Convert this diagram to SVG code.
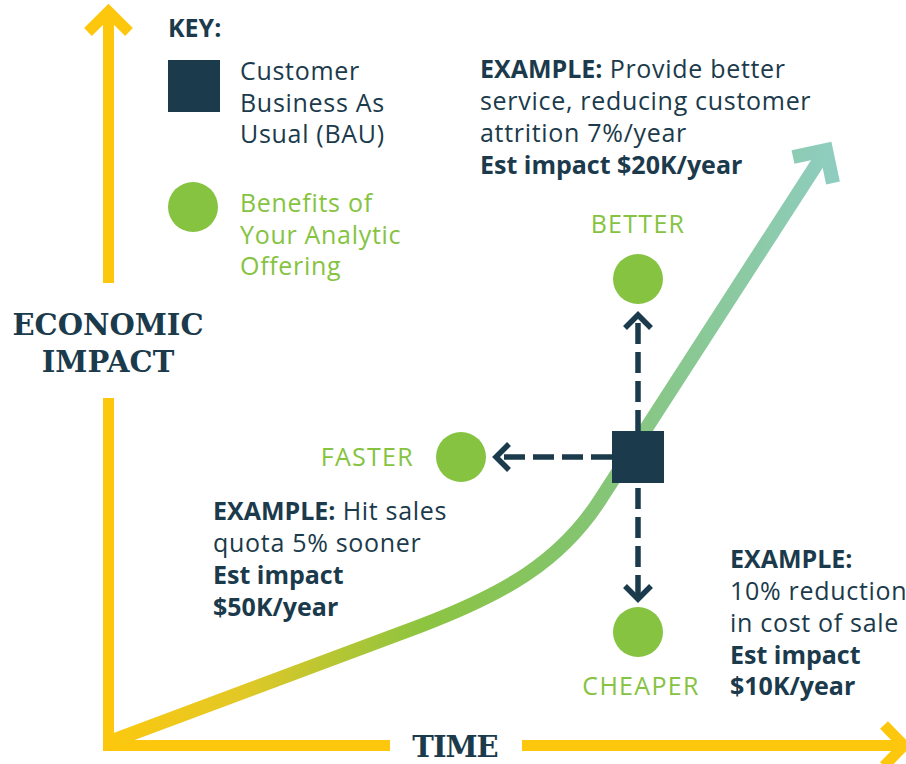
<svg xmlns="http://www.w3.org/2000/svg" width="906" height="764" viewBox="0 0 906 764">
<defs>
<linearGradient id="curveGrad" gradientUnits="userSpaceOnUse" x1="110" y1="0" x2="840" y2="0">
<stop offset="0" stop-color="#fcc80f"/>
<stop offset="0.18" stop-color="#e2c826"/>
<stop offset="0.43" stop-color="#8cc440"/>
<stop offset="0.62" stop-color="#84c46a"/>
<stop offset="1" stop-color="#8fcdc2"/>
</linearGradient>
<style>
.axis{fill:none;stroke:#fdc70d;stroke-width:11;stroke-linejoin:miter;stroke-miterlimit:10}
.curve{fill:none;stroke:url(#curveGrad);stroke-width:14;stroke-linejoin:miter;stroke-miterlimit:10}
.dash{fill:none;stroke:#1b3a4b;stroke-width:5.5;stroke-dasharray:21 8}
.head{fill:none;stroke:#1b3a4b;stroke-width:5.5;stroke-linejoin:miter}
.navy{fill:#1b3a4b}
.green{fill:#85c341}
.t{font-family:"Open Sans",Lato,"Liberation Sans",sans-serif;font-size:25px;fill:#1b3a4b;letter-spacing:0.7px}
.tg{font-family:"Open Sans",Lato,"Liberation Sans",sans-serif;font-size:25px;fill:#85c341;letter-spacing:0.7px}
.cap{letter-spacing:1.3px}
.b{font-weight:700;letter-spacing:0}
.slab{font-family:"DejaVu Serif","Liberation Serif",serif;font-weight:700;font-size:29px;fill:#1b3a4b}
</style>
</defs>

<g id="axes">
<line class="axis" x1="108.5" y1="14" x2="108.5" y2="283"/>
<polyline class="axis" points="88,32 108.5,11.5 129,32"/>
<line class="axis" x1="108.5" y1="398" x2="108.5" y2="750"/>
<line class="axis" x1="103" y1="745.5" x2="390" y2="745.5"/>
<line class="axis" x1="522" y1="745.5" x2="900" y2="745.5"/>
<polyline class="axis" points="884,725 904,745.5 884,766"/>
</g>

<g id="growth-curve">
<path class="curve" d="M112,741 L420,626 C504,594 560,562 600,500 L824,153"/>
<polyline class="curve" points="793,157 826,150 833,183"/>
</g>

<g id="axis-labels">
<text class="slab" x="108" y="335" text-anchor="middle">ECONOMIC</text>
<text class="slab" x="108" y="372" text-anchor="middle">IMPACT</text>
<text class="slab" x="455" y="757" text-anchor="middle" letter-spacing="-1">TIME</text>
</g>

<g id="key">
<text class="t b" x="168" y="37" font-size="23">KEY:</text>
<rect class="navy" x="168" y="60" width="52" height="52"/>
<text class="t" x="240" y="80">Customer</text>
<text class="t" x="240" y="112">Business As</text>
<text class="t" x="240" y="143">Usual (BAU)</text>
<circle class="green" cx="193" cy="207" r="25"/>
<text class="tg" x="240" y="212">Benefits of</text>
<text class="tg" x="240" y="244">Your Analytic</text>
<text class="tg" x="240" y="275">Offering</text>
</g>

<g id="connectors">
<line class="dash" x1="638" y1="431" x2="638" y2="318"/>
<polyline class="head" points="625,328 638,315 651,328"/>
<line class="dash" x1="612" y1="457" x2="499" y2="457"/>
<polyline class="head" points="509,444 496,457 509,470"/>
<line class="dash" x1="638" y1="488" x2="638" y2="596"/>
<polyline class="head" points="625,586 638,599 651,586"/>
</g>

<g id="bau">
<rect class="navy" x="612" y="431" width="52" height="52"/>
</g>

<g id="better">
<circle class="green" cx="638" cy="279" r="25"/>
<text class="tg cap" x="638" y="233" text-anchor="middle">BETTER</text>
</g>

<g id="faster">
<circle class="green" cx="461" cy="457" r="25"/>
<text class="tg cap" x="414" y="466" text-anchor="end">FASTER</text>
</g>

<g id="cheaper">
<circle class="green" cx="638" cy="632" r="25"/>
<text class="tg cap" x="641" y="695" text-anchor="middle">CHEAPER</text>
</g>

<g id="example-better">
<text class="t" x="480" y="78"><tspan class="b">EXAMPLE:</tspan> Provide better</text>
<text class="t" x="480" y="110">service, reducing customer</text>
<text class="t" x="480" y="142">attrition 7%/year</text>
<text class="t b" x="480" y="174">Est impact $20K/year</text>
</g>

<g id="example-faster">
<text class="t" x="213" y="520"><tspan class="b">EXAMPLE:</tspan> Hit sales</text>
<text class="t" x="213" y="552">quota 5% sooner</text>
<text class="t b" x="213" y="584">Est impact</text>
<text class="t b" x="213" y="616">$50K/year</text>
</g>

<g id="example-cheaper">
<text class="t b" x="730" y="568">EXAMPLE:</text>
<text class="t" x="730" y="600">10% reduction</text>
<text class="t" x="730" y="632">in cost of sale</text>
<text class="t b" x="730" y="664">Est impact</text>
<text class="t b" x="730" y="695">$10K/year</text>
</g>
</svg>
